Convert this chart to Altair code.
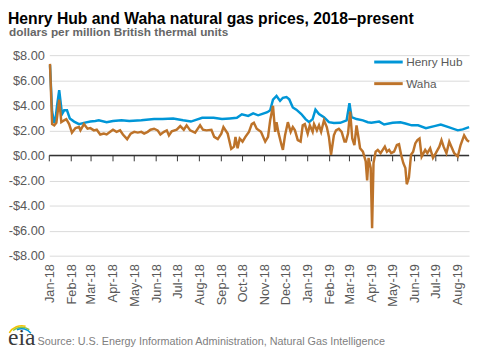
import altair as alt
import pandas as pd

title_text = "Henry Hub and Waha natural gas prices, 2018–present"
subtitle_text = "dollars per million British thermal units"
source_text = "Source: U.S. Energy Information Administration, Natural Gas Intelligence"
logo_text = "eia"

series_names = ["Henry Hub", "Waha"]
series_colors = ["#0096d7", "#bd732a"]
y_ticks = [-8, -6, -4, -2, 0, 2, 4, 6, 8]

month_starts = [
    "2018-01-01", "2018-02-01", "2018-03-01", "2018-04-01", "2018-05-01",
    "2018-06-01", "2018-07-01", "2018-08-01", "2018-09-01", "2018-10-01",
    "2018-11-01", "2018-12-01", "2019-01-01", "2019-02-01", "2019-03-01",
    "2019-04-01", "2019-05-01", "2019-06-01", "2019-07-01", "2019-08-01",
]

hh_dates = [
    "2018-01-02", "2018-01-05", "2018-01-08", "2018-01-10", "2018-01-12",
    "2018-01-15", "2018-01-19", "2018-01-22", "2018-01-26", "2018-01-30",
    "2018-02-05", "2018-02-12", "2018-02-19", "2018-02-28", "2018-03-07",
    "2018-03-12", "2018-03-23", "2018-04-01", "2018-04-13", "2018-04-24",
    "2018-05-11", "2018-05-18", "2018-05-29", "2018-06-10", "2018-06-25",
    "2018-07-09", "2018-07-20", "2018-08-05", "2018-08-21", "2018-09-02",
    "2018-09-13", "2018-09-23", "2018-09-30", "2018-10-09", "2018-10-16",
    "2018-10-23", "2018-10-28", "2018-11-05", "2018-11-09", "2018-11-13",
    "2018-11-18", "2018-11-23", "2018-11-27", "2018-12-02", "2018-12-06",
    "2018-12-11", "2018-12-16", "2018-12-23", "2018-12-29", "2019-01-03",
    "2019-01-08", "2019-01-12", "2019-01-17", "2019-01-24", "2019-01-31",
    "2019-02-07", "2019-02-16", "2019-02-25", "2019-03-01", "2019-03-04",
    "2019-03-11", "2019-03-20", "2019-03-27", "2019-04-01", "2019-04-12",
    "2019-04-19", "2019-05-01", "2019-05-12", "2019-05-19", "2019-05-28",
    "2019-06-06", "2019-06-17", "2019-06-29", "2019-07-08", "2019-07-19",
    "2019-08-01", "2019-08-08", "2019-08-17",
]
hh_values = [
    7.2, 3.5, 2.6, 3.0, 4.0,
    5.2, 3.3, 3.6, 3.6, 2.95,
    2.7, 2.5, 2.6, 2.7, 2.75,
    2.8, 2.65, 2.75, 2.8, 2.75,
    2.8, 2.85, 2.9, 2.9, 2.95,
    2.8, 2.7, 3.0, 3.0, 2.9,
    2.95, 3.0, 3.28, 3.15, 3.35,
    3.2, 3.3, 3.45, 3.6, 4.45,
    4.74, 4.35, 4.6, 4.65, 4.47,
    3.83, 3.65, 3.3, 2.9, 2.65,
    2.9, 3.65, 3.3, 3.05, 2.65,
    2.58, 2.6, 2.8, 4.16, 3.05,
    2.9, 2.8, 2.65, 2.6, 2.7,
    2.47, 2.6, 2.65, 2.55, 2.4,
    2.4, 2.18, 2.34, 2.47, 2.26,
    2.0, 2.08, 2.26,
]

waha_dates = [
    "2018-01-02", "2018-01-05", "2018-01-08", "2018-01-11", "2018-01-15",
    "2018-01-18", "2018-01-22", "2018-01-25", "2018-01-29", "2018-02-02",
    "2018-02-07", "2018-02-12", "2018-02-14", "2018-02-19", "2018-02-24",
    "2018-02-28", "2018-03-05", "2018-03-09", "2018-03-14", "2018-03-19",
    "2018-03-23", "2018-03-28", "2018-04-01", "2018-04-06", "2018-04-11",
    "2018-04-15", "2018-04-21", "2018-04-26", "2018-05-01", "2018-05-06",
    "2018-05-11", "2018-05-15", "2018-05-20", "2018-05-24", "2018-05-29",
    "2018-06-03", "2018-06-07", "2018-06-12", "2018-06-16", "2018-06-19",
    "2018-06-23", "2018-06-30", "2018-07-05", "2018-07-10", "2018-07-14",
    "2018-07-19", "2018-07-26", "2018-08-02", "2018-08-06", "2018-08-11",
    "2018-08-18", "2018-08-22", "2018-08-27", "2018-09-01", "2018-09-04",
    "2018-09-10", "2018-09-15", "2018-09-19", "2018-09-21", "2018-09-24",
    "2018-09-27", "2018-10-01", "2018-10-05", "2018-10-10", "2018-10-14",
    "2018-10-17", "2018-10-21", "2018-10-27", "2018-11-02", "2018-11-06",
    "2018-11-09", "2018-11-13", "2018-11-16", "2018-11-18", "2018-11-21",
    "2018-11-25", "2018-11-27", "2018-11-30", "2018-12-04", "2018-12-08",
    "2018-12-11", "2018-12-14", "2018-12-18", "2018-12-22", "2018-12-25",
    "2018-12-28", "2019-01-01", "2019-01-04", "2019-01-08", "2019-01-10",
    "2019-01-14", "2019-01-17", "2019-01-20", "2019-01-24", "2019-01-28",
    "2019-01-31", "2019-02-03", "2019-02-07", "2019-02-10", "2019-02-14",
    "2019-02-18", "2019-02-22", "2019-02-24", "2019-02-27", "2019-03-02",
    "2019-03-05", "2019-03-08", "2019-03-11", "2019-03-14", "2019-03-16",
    "2019-03-20", "2019-03-24", "2019-03-26", "2019-03-28", "2019-03-31",
    "2019-04-02", "2019-04-04", "2019-04-07", "2019-04-10", "2019-04-14",
    "2019-04-17", "2019-04-20", "2019-04-23", "2019-04-26", "2019-04-29",
    "2019-05-03", "2019-05-07", "2019-05-10", "2019-05-13", "2019-05-16",
    "2019-05-19", "2019-05-21", "2019-05-24", "2019-05-27", "2019-05-30",
    "2019-06-02", "2019-06-05", "2019-06-08", "2019-06-11", "2019-06-16",
    "2019-06-19", "2019-06-23", "2019-06-27", "2019-07-01", "2019-07-06",
    "2019-07-09", "2019-07-12", "2019-07-16", "2019-07-20", "2019-07-23",
    "2019-07-27", "2019-08-01", "2019-08-05", "2019-08-10", "2019-08-14",
    "2019-08-17",
]
waha_values = [
    7.3, 2.5, 2.4, 2.6, 4.45,
    2.65, 2.8, 2.9, 2.5, 1.82,
    2.18, 2.26, 2.0, 2.5, 2.13,
    2.18, 2.0, 2.05, 1.67, 1.74,
    1.67, 1.88, 2.05, 1.88, 2.0,
    1.67, 1.3, 1.74, 1.88, 1.82,
    1.88, 1.74, 1.88, 2.05, 2.13,
    2.0, 1.67, 1.88, 2.0, 1.6,
    1.93, 2.05, 2.34, 2.05, 2.4,
    2.0, 1.82, 2.4, 2.05, 2.0,
    2.05, 1.48, 1.3, 1.74, 2.26,
    1.74, 0.52, 0.7, 1.48, 0.57,
    1.35, 1.1, 1.48, 1.88, 2.5,
    2.6, 2.13, 1.88, 1.1, 1.48,
    2.8, 3.96, 1.88, 2.65, 1.74,
    0.83, 0.44, 1.6, 2.65, 1.88,
    2.26, 2.0, 1.22, 1.1, 2.4,
    2.5, 1.74, 2.4, 1.88, 2.5,
    2.0, 2.4, 1.88, 2.8, 2.26,
    1.48, 0.05, 1.6, 2.0, 2.13,
    1.88, 1.1, 1.1, 1.74, 3.5,
    1.35, 0.83, 2.4, 1.35, 0.57,
    0.3, -0.47, -2.0, -0.2, -1.0,
    -5.8, -0.6, 0.3, 0.44, 0.18,
    0.44, 0.7, 0.3, 0.44, 0.18,
    0.3, 0.83, 0.9, 0.05, -0.6,
    -1.0, -2.3, -1.77, 0.05, 0.3,
    0.96, 1.22, 1.35, -0.1, 0.44,
    0.18, 0.57, -0.2, 0.18, 0.7,
    1.22, 0.7, 0.18, 1.1, 0.7,
    0.18, -0.08, 0.83, 1.6, 1.22,
    1.1,
]

FONT = "Liberation Sans"
LABEL_COLOR = "#595959"
W, H = 427, 204

hh_df = pd.DataFrame({"date": hh_dates, "value": hh_values, "series": series_names[0]})
waha_df = pd.DataFrame({"date": waha_dates, "value": waha_values, "series": series_names[1]})
ticks_df = pd.DataFrame({"date": month_starts})


def dt(s):
    return alt.DateTime(year=int(s[:4]), month=int(s[5:7]), date=int(s[8:10]), utc=True)


xscale = alt.Scale(type="utc", domain=[dt("2018-01-01"), dt("2019-08-17")])
yscale = alt.Scale(domain=[-8, 8], nice=False, zero=False)

xaxis = alt.Axis(
    title=None, format="%b-%y", labelAngle=270, labelFontSize=13, labelFont=FONT,
    labelColor=LABEL_COLOR, labelPadding=8, ticks=False, tickSize=0, domain=False,
    grid=False, values=[dt(s) for s in month_starts], labelFlush=False, labelOverlap=False,
)
yaxis = alt.Axis(
    title=None, values=y_ticks, domain=False, ticks=False, tickSize=0, labelPadding=5,
    grid=True, gridColor="#d9d9d9", gridWidth=1, labelFontSize=13, labelFont=FONT,
    labelColor=LABEL_COLOR, labelOverlap=False, labelFlush=False,
    labelExpr="datum.value < 0 ? '-$' + format(-datum.value, '.2f') : '$' + format(datum.value, '.2f')",
)

x_enc = alt.X("date:T", scale=xscale, axis=xaxis)
y_enc = alt.Y("value:Q", scale=yscale, axis=yaxis)
y_zero = alt.YDatum(0, scale=yscale, axis=yaxis)
y2_zero = alt.Y2Datum(0)
color_enc = alt.Color(
    "series:N",
    scale=alt.Scale(domain=series_names, range=series_colors),
    legend=alt.Legend(
        title=None, orient="none", legendX=329, legendY=-9, symbolType="stroke",
        symbolSize=841, symbolStrokeWidth=3, labelFontSize=12, labelFont=FONT,
        labelColor=LABEL_COLOR, rowPadding=-9, labelOffset=2, padding=0,
    ),
)

zero_rule = alt.Chart(pd.DataFrame({"v": [0]})).mark_rule(color="#333333", strokeWidth=1.5).encode(
    y=y_zero
)
month_ticks = alt.Chart(ticks_df).mark_rule(color="#333333", strokeWidth=1, y2Offset=6).encode(
    x=x_enc, y=y_zero, y2=y2_zero
)
hh_line = alt.Chart(hh_df).mark_line(strokeWidth=2.5).encode(x=x_enc, y=y_enc, color=color_enc)
waha_line = alt.Chart(waha_df).mark_line(strokeWidth=2.5).encode(x=x_enc, y=y_enc, color=color_enc)

title_mark = alt.Chart(pd.DataFrame({"t": [title_text]})).mark_text(
    align="left", baseline="alphabetic", fontSize=16, fontWeight="bold", font=FONT, color="#000000"
).encode(text="t:N", x=alt.value(-42), y=alt.value(-32))

subtitle_mark = alt.Chart(pd.DataFrame({"t": [subtitle_text]})).mark_text(
    align="left", baseline="alphabetic", fontSize=12, fontWeight="bold", font=FONT, color="#666666"
).encode(text="t:N", x=alt.value(-41), y=alt.value(-19))

source = alt.Chart(pd.DataFrame({"t": [source_text]})).mark_text(
    align="left", baseline="alphabetic", fontSize=11, font=FONT, color="#808080"
).encode(text="t:N", x=alt.value(-12), y=alt.value(295))

logo = alt.Chart(pd.DataFrame({"t": [logo_text]})).mark_text(
    align="left", baseline="alphabetic", fontSize=24, font="Liberation Serif", color="#3a3a3a"
).encode(text="t:N", x=alt.value(-42), y=alt.value(295))

logo_arcs = []
for col, r1, r2, t1, t2 in [
    ("#f5c200", 15.5, 14.0, 5.25, 6.55),
    ("#8cc63f", 14.0, 12.5, 5.55, 6.9),
    ("#0096d7", 12.5, 11.0, 5.85, 7.2),
]:
    logo_arcs.append(
        alt.Chart(pd.DataFrame({"a": [0]})).mark_arc(
            radius=r1, radius2=r2, theta=t1, theta2=t2, color=col
        ).encode(x=alt.value(-28), y=alt.value(290))
    )

chart = alt.layer(
    zero_rule, month_ticks, hh_line, waha_line, title_mark, subtitle_mark, source, logo, *logo_arcs
).properties(
    width=W,
    height=H,
    autosize=alt.AutoSizeParams(type="none"),
    padding={"left": 42, "top": 45, "right": 5, "bottom": 95},
).configure(font=FONT).configure_view(strokeWidth=0)

chart.save("out.html", embed_options={"renderer": "svg", "actions": False})
